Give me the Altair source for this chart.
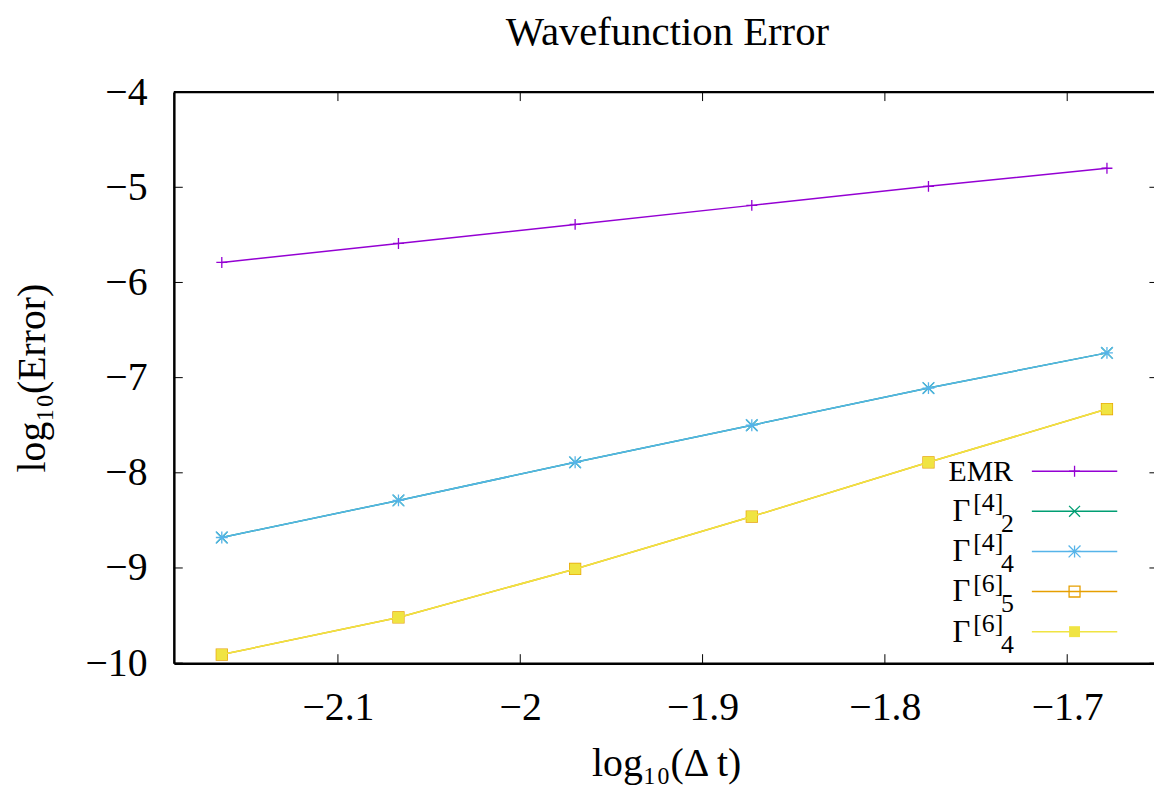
import altair as alt
import pandas as pd

# ---------------- data ----------------
x_vals = [-2.1637, -2.0668, -1.9699, -1.8730, -1.7761, -1.6782]
emr = [-5.79, -5.59, -5.39, -5.19, -4.99, -4.80]
g4_2 = [-8.68, -8.29, -7.89, -7.50, -7.11, -6.74]
g4_4 = [-8.68, -8.29, -7.89, -7.50, -7.11, -6.74]
g6_5 = [-9.91, -9.52, -9.01, -8.46, -7.89, -7.33]
g6_4 = [-9.91, -9.52, -9.01, -8.46, -7.89, -7.33]

series_values = [emr, g4_2, g4_4, g6_5, g6_4]
series_names = ["EMR", "Γ[4]2", "Γ[4]4", "Γ[6]5", "Γ[6]4"]
legend_main = ["EMR", "Γ", "Γ", "Γ", "Γ"]
legend_sup = ["", "[4]", "[4]", "[6]", "[6]"]
legend_sub = ["", "2", "4", "5", "4"]

chart_title = ["Wavefunction Error"]
x_ticks = [-2.1, -2.0, -1.9, -1.8, -1.7]
y_ticks = [-10, -9, -8, -7, -6, -5, -4]

# ---------------- styles ----------------
FONT = "Liberation Serif"
colors = ["#9400d3", "#009e73", "#56b4e9", "#e69f00", "#f0e442"]
PLUS = "M-1,0L1,0M0,-1L0,1"
CROSS = "M-1,-1L1,1M-1,1L1,-1"
STAR = "M-1,0L1,0M0,-1L0,1M-1,-1L1,1M-1,1L1,-1"
shapes = [PLUS, CROSS, STAR, "square", "square"]
filled = [False, False, False, False, True]
sizes = [121, 121, 144, 121, 121]

W, H = 987, 575
XR = 991.4  # pixel extent of the x scale (plot continues past the page edge)

xscale = alt.Scale(domain=[-2.19, -1.65], range=[0, XR], nice=False, zero=False)
yscale = alt.Scale(domain=[-10, -4], nice=False, zero=False)

xaxis = alt.Axis(values=x_ticks, format="~g", title="log₁₀(Δ t)",
                 labelFont=FONT, labelFontSize=40, labelColor="black",
                 labelPadding=57, labelBaseline="alphabetic",
                 labelFlush=False, labelOverlap=False, labelBound=False,
                 ticks=False, tickSize=0, grid=False,
                 domainColor="black", domainWidth=2.5,
                 titleFont=FONT, titleFontSize=40, titleFontWeight="normal",
                 titleColor="black", titleY=113, titleBaseline="alphabetic")
yaxis = alt.Axis(values=y_ticks, format="d", title="log₁₀(Error)",
                 labelFont=FONT, labelFontSize=40, labelColor="black",
                 labelPadding=27, labelFlush=False, labelOverlap=False,
                 labelBound=False,
                 ticks=False, tickSize=0, grid=False,
                 domainColor="black", domainWidth=2.5,
                 titleFont=FONT, titleFontSize=40, titleFontWeight="normal",
                 titleColor="black", titleAngle=270, titleX=-130, titleY=H / 2,
                 titleBaseline="alphabetic", titleAlign="center")

layers = []

# inward mirrored ticks and the top border
ytick_df = pd.DataFrame({"v": y_ticks})
xtick_df = pd.DataFrame({"v": x_ticks})
layers.append(alt.Chart(ytick_df).mark_rule(color="black", strokeWidth=1).encode(
    y=alt.Y("v:Q", scale=yscale, axis=yaxis), x=alt.value(0), x2=alt.value(9)))
layers.append(alt.Chart(ytick_df).mark_rule(color="black", strokeWidth=1).encode(
    y=alt.Y("v:Q", scale=yscale, axis=yaxis), x=alt.value(XR - 9), x2=alt.value(XR)))
layers.append(alt.Chart(xtick_df).mark_rule(color="black", strokeWidth=1).encode(
    x=alt.X("v:Q", scale=xscale, axis=xaxis), y=alt.value(H), y2=alt.value(H - 9)))
layers.append(alt.Chart(xtick_df).mark_rule(color="black", strokeWidth=1).encode(
    x=alt.X("v:Q", scale=xscale, axis=xaxis), y=alt.value(0), y2=alt.value(9)))
layers.append(alt.Chart(xtick_df.head(1)).mark_rule(color="black", strokeWidth=2.5).encode(
    x=alt.value(0), x2=alt.value(W), y=alt.value(0)))

# chart title as a text mark above the plot
layers.append(alt.Chart(pd.DataFrame({"t": chart_title})).mark_text(
    font=FONT, fontSize=41, align="center", baseline="alphabetic", color="black"
).encode(text="t:N", x=alt.value(497), y=alt.value(-47)))

# data series
for i, vals in enumerate(series_values):
    df = pd.DataFrame({"x": x_vals, "y": vals, "series": series_names[i]})
    enc = dict(x=alt.X("x:Q", scale=xscale, axis=xaxis),
               y=alt.Y("y:Q", scale=yscale, axis=yaxis))
    layers.append(alt.Chart(df).mark_line(color=colors[i], strokeWidth=1.5).encode(**enc))
    layers.append(alt.Chart(df).mark_point(
        shape=shapes[i], size=sizes[i], filled=filled[i], color=colors[i],
        strokeWidth=1.3, opacity=1).encode(**enc))

# legend (gnuplot style: label on the left, sample on the right)
ROW0, ROWSTEP = 381.7, 40.4
LX1, LX2, LSYM = 864, 950, 907
for i in range(len(series_names)):
    yc = ROW0 + i * ROWSTEP
    one = pd.DataFrame({"name": [series_names[i]], "main": [legend_main[i]],
                        "sup": [legend_sup[i]], "sub": [legend_sub[i]]})
    layers.append(alt.Chart(one).mark_rule(color=colors[i], strokeWidth=1.5).encode(
        x=alt.value(LX1), x2=alt.value(LX2), y=alt.value(yc)))
    layers.append(alt.Chart(one).mark_point(
        shape=shapes[i], size=sizes[i], filled=filled[i], color=colors[i],
        strokeWidth=1.3, opacity=1).encode(x=alt.value(LSYM), y=alt.value(yc)))
    if legend_sup[i] == "":
        layers.append(alt.Chart(one).mark_text(
            font=FONT, fontSize=30, align="right", baseline="alphabetic", color="black"
        ).encode(text="main:N", x=alt.value(845), y=alt.value(yc + 10)))
    else:
        layers.append(alt.Chart(one).mark_text(
            font=FONT, fontSize=31, align="left", baseline="alphabetic", color="black"
        ).encode(text="main:N", x=alt.value(784), y=alt.value(yc + 10)))
        layers.append(alt.Chart(one).mark_text(
            font=FONT, fontSize=26, align="left", baseline="alphabetic", color="black"
        ).encode(text="sup:N", x=alt.value(805), y=alt.value(yc)))
        layers.append(alt.Chart(one).mark_text(
            font=FONT, fontSize=26, align="left", baseline="alphabetic", color="black"
        ).encode(text="sub:N", x=alt.value(833), y=alt.value(yc + 21)))

chart = alt.layer(*layers).properties(
    width=W, height=H,
    autosize=alt.AutoSizeParams(type="none"),
    padding={"left": 167, "top": 82, "right": 0, "bottom": 120},
).configure_view(stroke=None).configure(background="white")

chart.save("out.html", embed_options={"renderer": "svg", "actions": False})
